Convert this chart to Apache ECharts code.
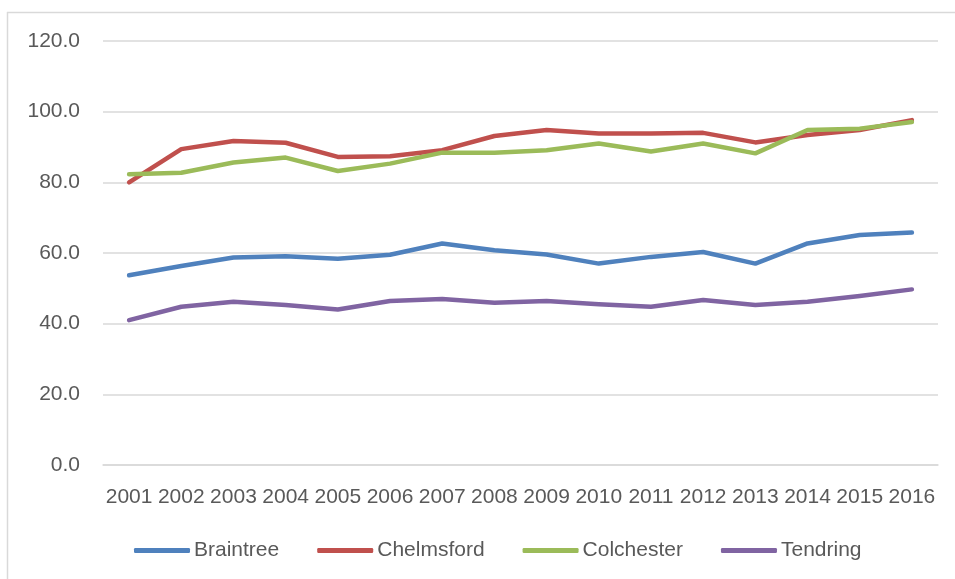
<!DOCTYPE html>
<html>
<head>
<meta charset="utf-8">
<script src="https://cdn.jsdelivr.net/npm/echarts@6/dist/echarts.min.js"></script>
<style>
html,body{margin:0;padding:0;background:#fff;}
#main{width:955px;height:579px;}
</style>
</head>
<body>
<div id="main"></div>
<script>
var years = ['2001','2002','2003','2004','2005','2006','2007','2008','2009','2010','2011','2012','2013','2014','2015','2016'];
var braintree  = [53.7,56.3,58.7,59.1,58.4,59.5,62.7,60.8,59.6,57.0,58.9,60.3,57.0,62.7,65.1,65.8];
var chelmsford = [80.0,89.4,91.7,91.2,87.2,87.4,89.1,93.1,94.8,93.8,93.8,94.0,91.3,93.4,94.8,97.6];
var colchester = [82.3,82.7,85.6,87.0,83.2,85.3,88.4,88.4,89.1,91.0,88.7,91.0,88.2,94.8,95.2,97.1];
var tendring   = [41.0,44.8,46.2,45.3,44.0,46.4,47.0,45.9,46.4,45.5,44.8,46.7,45.3,46.2,47.8,49.7];

var FONT = "'Liberation Sans', Arial, sans-serif";
var TXT = '#595959';

function mk(name, data, color) {
  return {
    name: name, type: 'line', data: data, symbol: 'none',
    lineStyle: { width: 4.5, color: color, cap: 'round', join: 'round' },
    itemStyle: { color: color },
    animation: false
  };
}

var chart = echarts.init(document.getElementById('main'));
chart.setOption({
  animation: false,
  backgroundColor: '#fff',
  textStyle: { fontFamily: FONT },
  graphic: [
    { type: 'line', shape: { x1: 7.5, y1: 12, x2: 7.5, y2: 579 }, style: { stroke: '#d9d9d9', lineWidth: 1.5 } },
    { type: 'line', shape: { x1: 7, y1: 12.5, x2: 955, y2: 12.5 }, style: { stroke: '#d9d9d9', lineWidth: 1.5 } }
  ],
  grid: { left: 103, right: 17, top: 41, bottom: 114, containLabel: false },
  legend: {
    bottom: 13, left: 129,
    itemWidth: 56, itemHeight: 5, itemGap: 38,
    icon: 'roundRect',
    textStyle: { color: TXT, fontSize: 21, fontFamily: FONT, padding: [0,0,0,-1] },
    data: ['Braintree','Chelmsford','Colchester','Tendring']
  },
  xAxis: {
    type: 'category', data: years, boundaryGap: true,
    axisLine: { show: true, lineStyle: { color: '#d9d9d9', width: 1.5 } },
    axisTick: { show: false },
    axisLabel: { interval: 0, color: TXT, fontSize: 21, fontFamily: FONT, margin: 22 }
  },
  yAxis: {
    type: 'value', min: 0, max: 120, interval: 20,
    axisLine: { show: false }, axisTick: { show: false },
    splitLine: { lineStyle: { color: '#d9d9d9', width: 1.5 } },
    axisLabel: { color: TXT, fontSize: 21, fontFamily: FONT, margin: 23,
      formatter: function (v) { return v.toFixed(1); } }
  },
  series: [
    mk('Braintree', braintree, '#4f81bd'),
    mk('Chelmsford', chelmsford, '#c0504d'),
    mk('Colchester', colchester, '#9bbb59'),
    mk('Tendring', tendring, '#8064a2')
  ]
});
</script>
</body>
</html>
